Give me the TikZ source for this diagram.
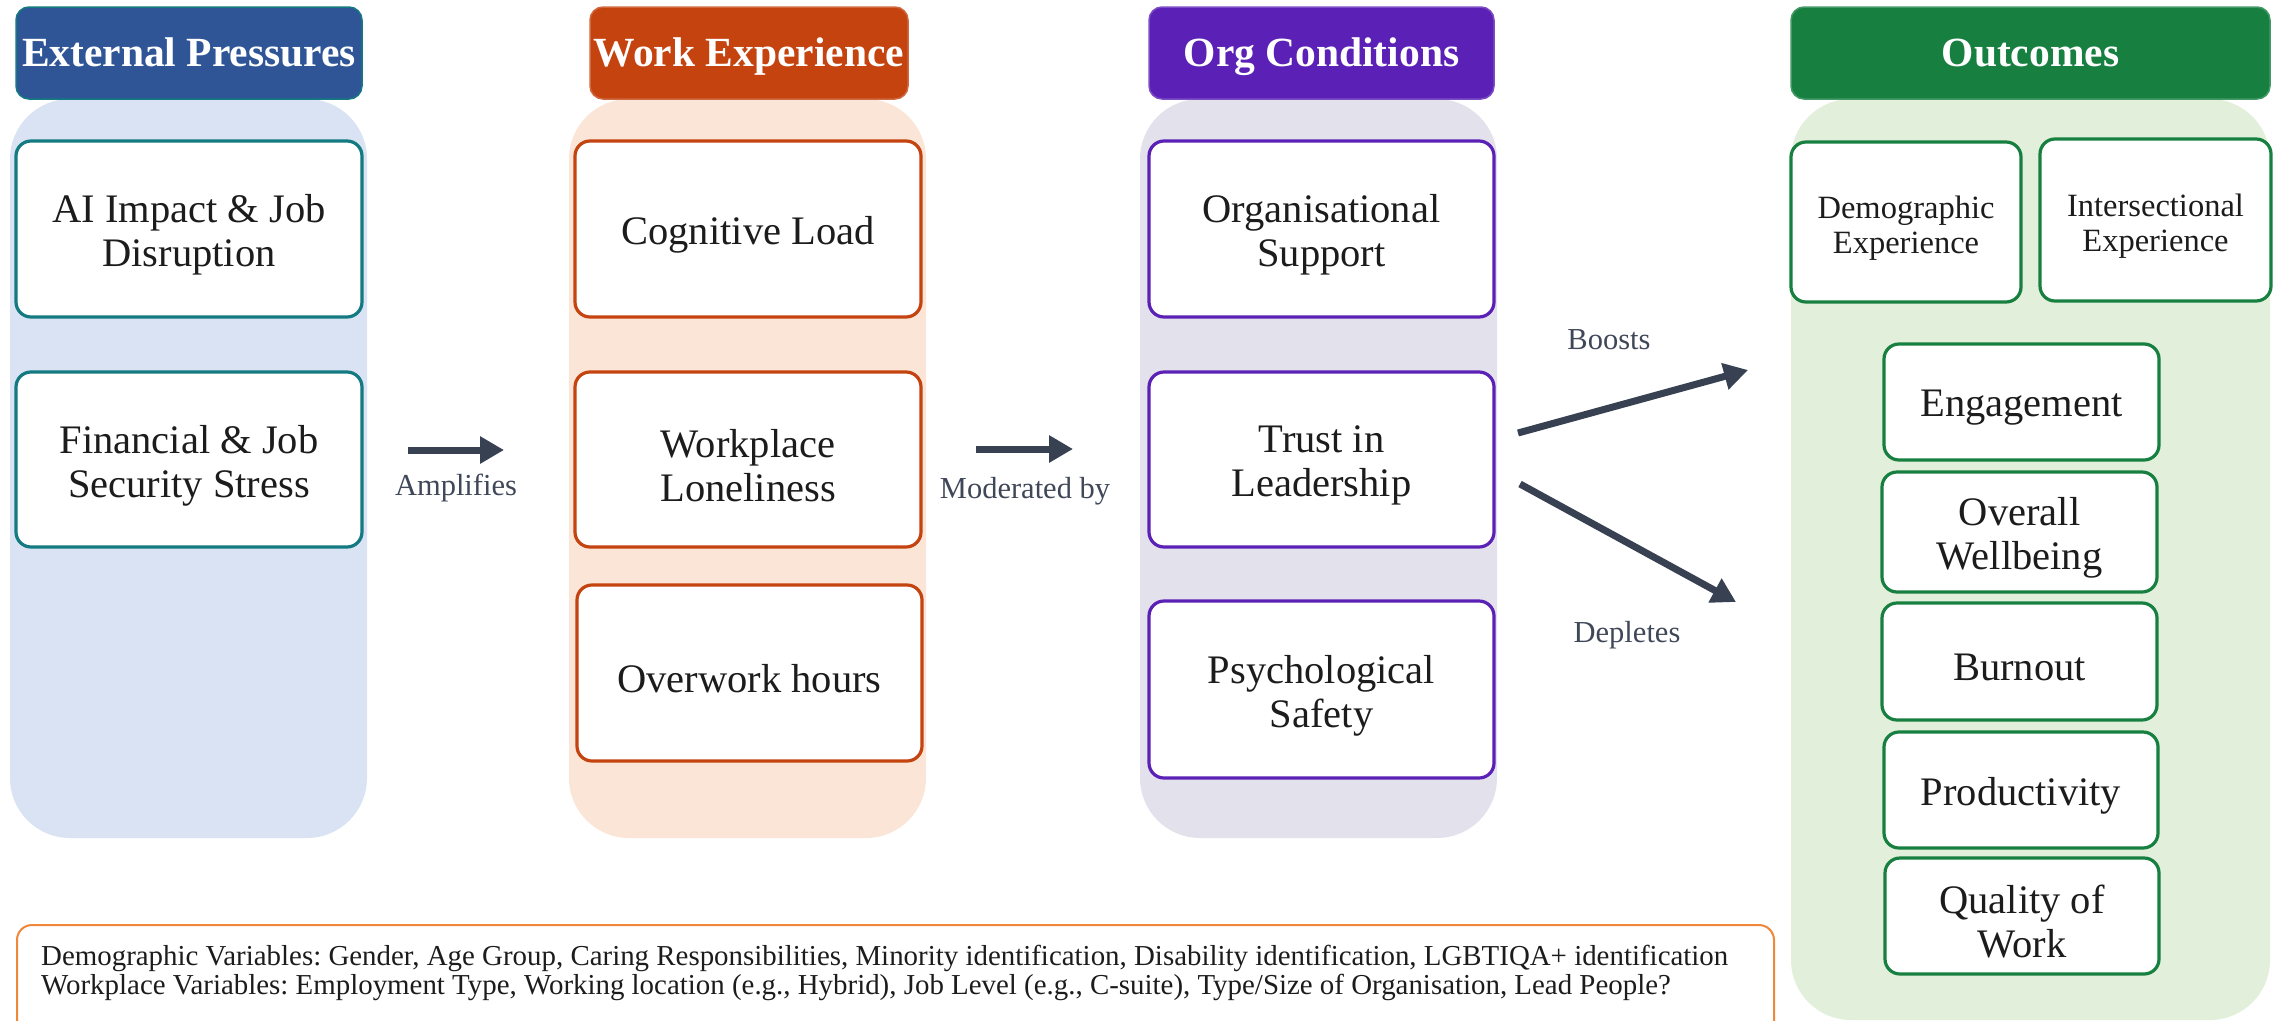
\documentclass[tikz,border=0pt]{standalone}
\usepackage{fontspec}
\setmainfont{Liberation Serif}
\usetikzlibrary{arrows.meta}
\definecolor{hblue}{HTML}{2F5597}
\definecolor{bteal}{HTML}{127A80}
\definecolor{bgblue}{HTML}{DAE3F3}
\definecolor{horange}{HTML}{C4430F}
\definecolor{bgorange}{HTML}{FBE5D6}
\definecolor{hpurple}{HTML}{5B21B6}
\definecolor{bgpurple}{HTML}{E3E1EC}
\definecolor{hgreen}{HTML}{178040}
\definecolor{bggreen}{HTML}{E2EFDA}
\definecolor{arrowc}{HTML}{374151}
\definecolor{labc}{HTML}{3F4758}
\definecolor{legendc}{HTML}{F0883A}
\definecolor{txtc}{HTML}{1C1C1C}
% #1 border colour, #2 name, #3 x, #4 y, #5 width, #6 height, #7 text style, #8 text
\newcommand{\mybox}[8]{%
  \node[box, draw=#1, minimum width=#5pt, minimum height=#6pt] (#2) at (#3,#4) {};
  \node[#7] (#2-t) at ([yshift=-6pt]#2.center) {#8};}
\begin{document}
\frenchspacing
\begin{tikzpicture}[x=1pt,y=-1pt,
  hdr/.style={rounded corners=13pt, minimum height=92pt, inner sep=0pt, text=white,
    font=\fontsize{41.5}{46}\selectfont\bfseries, line width=1.5pt,
    text height=28pt, text depth=2pt},
  colbg/.style={rounded corners=60pt},
  box/.style={draw, fill=white, rounded corners=15pt, line width=3.2pt, inner sep=0pt},
  bigt/.style={align=center, text=txtc, inner sep=0pt, font=\fontsize{40.5}{44}\selectfont},
  smallt/.style={align=center, text=txtc, inner sep=0pt, font=\fontsize{32.5}{35}\selectfont},
  arr/.style={draw=arrowc, line width=7pt, -{Triangle[length=24pt,width=26pt]}},
  lab/.style={text=labc, font=\fontsize{30.5}{34}\selectfont, inner sep=0pt},
  legendbox/.style={draw=legendc, line width=2pt, rounded corners=15pt, fill=white,
    minimum width=1757pt, minimum height=120pt, inner sep=0pt},
  legendt/.style={align=left, text=txtc, inner sep=0pt, font=\fontsize{28.9}{29.5}\selectfont}
]
\useasboundingbox (0,0) rectangle (2277,1020);
\clip (0,0) rectangle (2277,1020);

% column backgrounds
\fill[bgblue, colbg] (10,99) rectangle (367,838);
\fill[bgorange, colbg] (569,99) rectangle (926,838);
\fill[bgpurple, colbg] (1140,99) rectangle (1497,838);
\fill[bggreen, colbg] (1791,99) rectangle (2270,1020);

% headers
\node[hdr, fill=hblue, draw=bteal, minimum width=346pt] (h1) at (189,53) {External Pressures};
\node[hdr, fill=horange, draw=horange!80!white, minimum width=318pt] (h2) at (749,53) {Work Experience};
\node[hdr, fill=hpurple, draw=hpurple!80!white, minimum width=345pt] (h3) at (1321.5,53) {Org Conditions};
\node[hdr, fill=hgreen, draw=hgreen!80!white, minimum width=479pt] (h4) at (2030.5,53) {Outcomes};

% column 1
\mybox{bteal}{ai}{189}{229}{346}{176}{bigt}{AI Impact \& Job\\Disruption}
\mybox{bteal}{fin}{189}{459.5}{346}{175}{bigt}{Financial \& Job\\Security Stress}

% column 2
\mybox{horange}{cog}{748}{229}{346}{176}{bigt}{Cognitive Load}
\mybox{horange}{lon}{748}{459.5}{346}{175}{bigt}{Workplace\\Loneliness}
\mybox{horange}{over}{749.5}{673}{345}{176}{bigt}{Overwork hours}

% column 3
\mybox{hpurple}{sup}{1321.5}{229}{345}{176}{bigt}{Organisational\\Support}
\mybox{hpurple}{trust}{1321.5}{459.5}{345}{175}{bigt}{Trust in\\Leadership}
\mybox{hpurple}{psy}{1321.5}{689.5}{345}{177}{bigt}{Psychological\\Safety}

% outcomes
\mybox{hgreen}{demo}{1906}{222}{230}{160}{smallt}{Demographic\\Experience}
\mybox{hgreen}{inter}{2155.5}{220}{231}{162}{smallt}{Intersectional\\Experience}
\mybox{hgreen}{eng}{2021.5}{402}{275}{116}{bigt}{Engagement}
\mybox{hgreen}{well}{2019.5}{532}{275}{120}{bigt}{Overall\\Wellbeing}
\mybox{hgreen}{burn}{2019.5}{661.5}{275}{117}{bigt}{Burnout}
\mybox{hgreen}{prod}{2021}{790}{274}{116}{bigt}{Productivity}
\mybox{hgreen}{qual}{2022}{916}{274}{116}{bigt}{Quality of\\Work}

% arrows
\coordinate (a1s) at (408,450);
\coordinate (a1e) at (504,450);
\coordinate (a2s) at (976,449);
\coordinate (a2e) at (1073,449);
\coordinate (bs) at (1518,433);
\coordinate (be) at (1748,370);
\coordinate (ds) at (1520,484);
\coordinate (de) at (1736,602);
\draw[arr] (a1s) -- (a1e);
\draw[arr] (a2s) -- (a2e);
\draw[arr] (bs) -- (be);
\draw[arr] (ds) -- (de);
\node[lab] (amp) at (456,488) {Amplifies};
\node[lab] (mod) at (1025,491) {Moderated by};
\node[lab] (boo) at (1609,340) {Boosts};
\node[lab] (dep) at (1627,635) {Depletes};

% legend
\node[legendbox, anchor=north west] (legend) at (16,924) {};
\node[legendt, anchor=west] (legend-t) at (41,973) {Demographic Variables: Gender, Age Group, Caring Responsibilities, Minority identification, Disability identification, LGBTIQA+ identification\\Workplace Variables: Employment Type, Working location (e.g., Hybrid), Job Level (e.g., C-suite), Type/Size of Organisation, Lead People?};
\end{tikzpicture}
\end{document}
